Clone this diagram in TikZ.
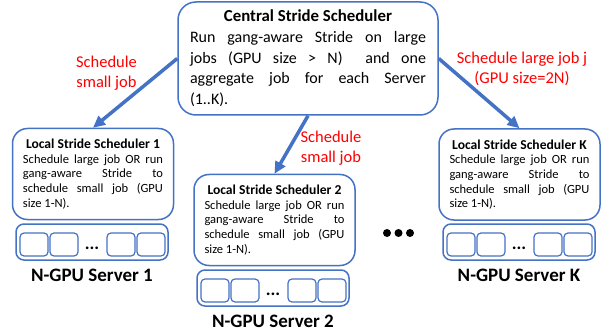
\documentclass[tikz,border=0pt]{standalone}
\usepackage{fontspec}
\setmainfont{Carlito}
\usetikzlibrary{arrows.meta}
\definecolor{boxblue}{HTML}{4472C4}
\tikzset{
  centralbox/.style={draw=boxblue, line width=1.5pt, rounded corners=18pt, minimum width=260pt, minimum height=113pt, text width=236pt, align=justify, inner sep=0pt, font=\fontsize{16}{20.7}\selectfont},
  schedbox/.style={draw=boxblue, line width=1.5pt, rounded corners=15pt, minimum width=161pt, minimum height=91pt, text width=140pt, align=justify, inner sep=0pt, font=\fontsize{12.5}{14.6}\selectfont},
  serverbox/.style={draw=boxblue, line width=1.5pt, rounded corners=8pt, minimum width=152pt, minimum height=36pt, inner sep=0pt},
  slotbox/.style={draw=boxblue, line width=1.2pt, rounded corners=4pt},
  serverlabel/.style={font=\fontsize{19}{22}\selectfont\bfseries},
  sendarrow/.style={draw=boxblue, line width=3.5pt, -{Triangle[length=12pt, width=11pt]}},
  redlabel/.style={text=red, align=center, font=\fontsize{16.5}{20}\selectfont}
}
\newcommand{\boxtitle}[2]{\makebox[\linewidth]{\fontsize{#1}{#1}\selectfont\bfseries #2}}
% #1 name, #2 left, #3 top, #4 label
\newcommand{\gpuserver}[4]{
  \node[serverbox] (#1) at (#2+76,#3+18) {};
  \foreach \off in {4,34,91,121}
    \draw[slotbox] (#2+\off,#3+9) rectangle ++(28,23);
  \node[anchor=base, font=\fontsize{18}{18}\selectfont\bfseries] (#1dots) at (#2+76,#3+25) {...};
  \node[serverlabel] (#1label) at (#2+76,#3+51) {#4};
}

\begin{document}
\begin{tikzpicture}[x=1pt, y=-1pt]
  \useasboundingbox (0,0) rectangle (608,334);

  \node[centralbox] (central) at (308,58.5) {\boxtitle{16.8}{Central Stride Scheduler}\\
    Run gang-aware Stride on large\linebreak jobs (GPU size > N)\ \ and one\linebreak aggregate job for each Server\linebreak (1..K).};

  \node[schedbox] (local1) at (93,174) {\boxtitle{13.6}{Local Stride Scheduler 1}\\
    Schedule large job OR run\linebreak gang-aware Stride to\linebreak schedule small job (GPU\linebreak size 1-N).};
  \node[schedbox] (local2) at (274.5,220) {\boxtitle{13.6}{Local Stride Scheduler 2}\\
    Schedule large job OR run\linebreak gang-aware Stride to\linebreak schedule small job (GPU\linebreak size 1-N).};
  \node[schedbox] (localK) at (519.5,174.5) {\boxtitle{13.6}{Local Stride Scheduler K}\\
    Schedule large job OR run\linebreak gang-aware Stride to\linebreak schedule small job (GPU\linebreak size 1-N).};

  \gpuserver{server1}{16}{224}{N-GPU Server 1}
  \gpuserver{server2}{197}{270}{N-GPU Server 2}
  \gpuserver{serverK}{443}{224}{N-GPU Server K}

  % more servers
  \fill (387,233) circle (4);
  \fill (398.5,233) circle (4);
  \fill (410,233) circle (4);

  \draw[sendarrow] (central.west) -- (local1.north);
  \draw[sendarrow] (central.south) -- (local2.north);
  \draw[sendarrow] (central.east) -- (localK.north);

  \node[redlabel] (lbl1) at (106.5,73) {Schedule\\small job};
  \node[redlabel] (lbl2) at (331,148) {Schedule\\small job};
  \node[redlabel] (lblK) at (522,69) {Schedule large job j\\(GPU size=2N)};
\end{tikzpicture}
\end{document}
